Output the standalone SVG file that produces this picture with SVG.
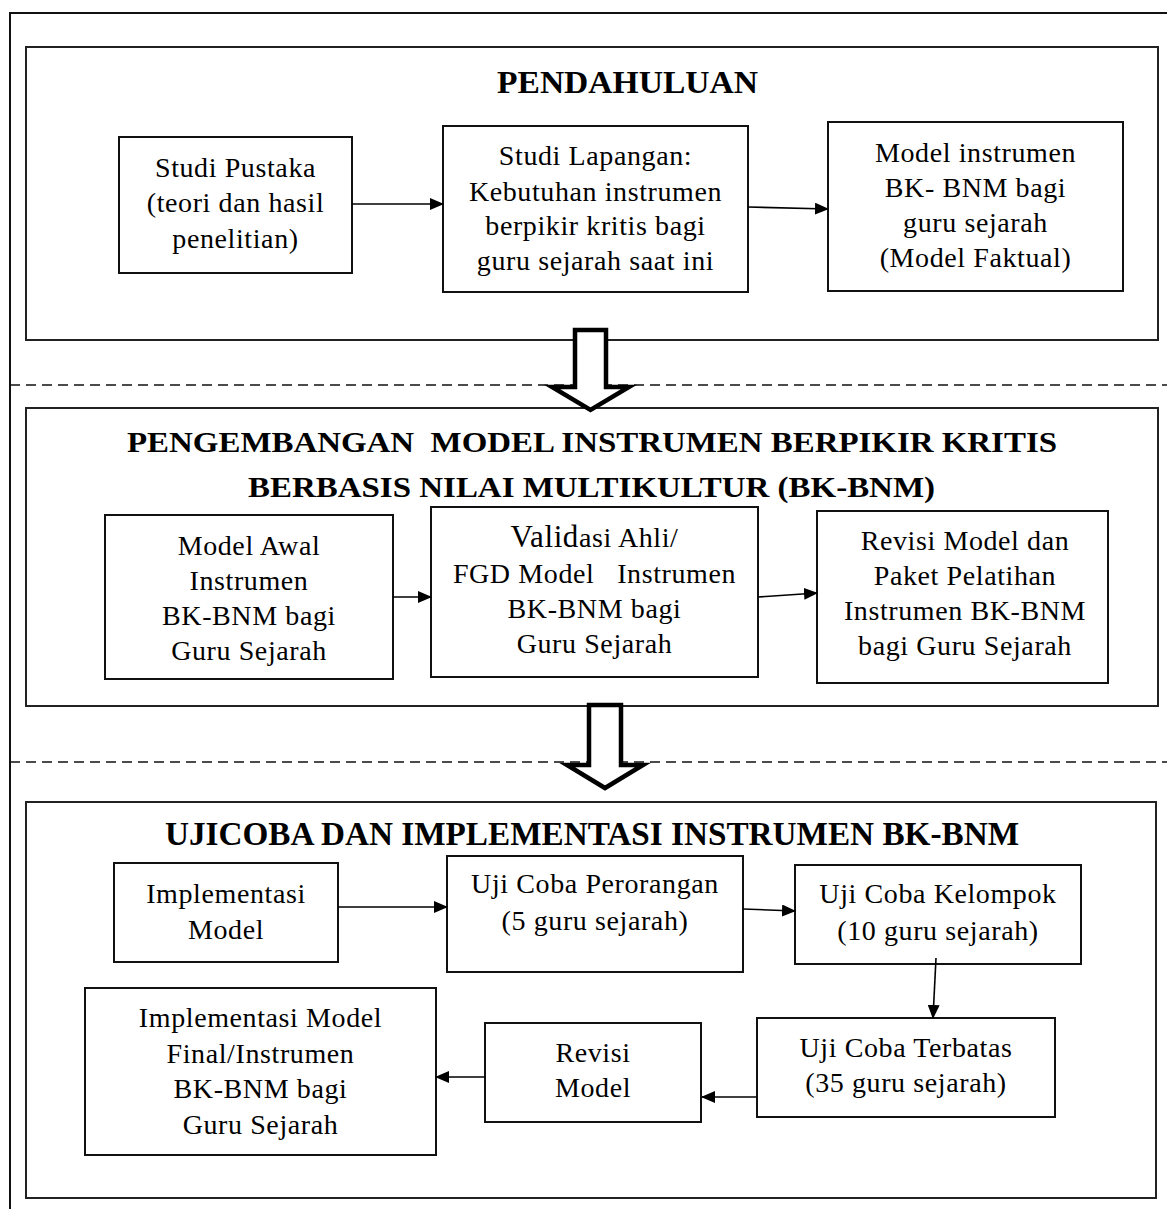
<svg xmlns="http://www.w3.org/2000/svg" width="1167" height="1209" viewBox="0 0 1167 1209">
<style>
.frame{fill:none;stroke:#111;stroke-width:2}
.sec{fill:none;stroke:#222;stroke-width:2}
.box{fill:#fff;stroke:#111;stroke-width:2}
.dash{fill:none;stroke:#111;stroke-width:1.5;stroke-dasharray:10 6}
.block{fill:#fff;stroke:#000;stroke-width:4.5;stroke-linejoin:miter}
.t{font-family:"Liberation Serif","Times New Roman",serif;font-size:28px;letter-spacing:0.6px;fill:#000;text-anchor:middle}
.h{font-family:"Liberation Serif","Times New Roman",serif;font-weight:bold;fill:#000;text-anchor:middle}
.c{fill:none;stroke:#000;stroke-width:1.6}
</style>
<defs>
<marker id="ah" viewBox="0 0 14 12" refX="13" refY="6" markerWidth="14" markerHeight="12" markerUnits="userSpaceOnUse" orient="auto">
<path d="M0,0 L14,6 L0,12 Z" fill="#000"/>
</marker>
</defs>
<rect width="1167" height="1209" fill="#fff"/>
<g id="frame">
<path class="frame" d="M10,1209 V13 H1167"/>
</g>
<g id="section-pendahuluan">
<rect class="sec" x="26" y="47" width="1132" height="293"/>
<text class="h" x="627.5" y="93" font-size="32" textLength="261" lengthAdjust="spacingAndGlyphs">PENDAHULUAN</text>
</g>
<g id="section-pengembangan">
<rect class="sec" x="26" y="408" width="1132" height="298"/>
<text class="h" x="592" y="452" font-size="30" xml:space="preserve" textLength="930" lengthAdjust="spacingAndGlyphs">PENGEMBANGAN  MODEL INSTRUMEN BERPIKIR KRITIS</text>
<text class="h" x="591.5" y="497" font-size="30" textLength="687" lengthAdjust="spacingAndGlyphs">BERBASIS NILAI MULTIKULTUR (BK-BNM)</text>
</g>
<g id="section-ujicoba">
<rect class="sec" x="26" y="802" width="1130" height="396"/>
<text class="h" x="592" y="845" font-size="33" textLength="854" lengthAdjust="spacingAndGlyphs">UJICOBA DAN IMPLEMENTASI INSTRUMEN BK-BNM</text>
</g>
<g id="separators">
<line class="dash" x1="10" y1="385" x2="1167" y2="385"/>
<line class="dash" x1="10" y1="762" x2="1167" y2="762"/>
</g>
<g id="block-arrow-1">
<polygon class="block" points="575,330 606,330 606,387 629,387 590.5,410 552,387 575,387"/>
</g>
<g id="block-arrow-2">
<polygon class="block" points="589,705 621,705 621,765 643,765 605,788 567,765 589,765"/>
</g>
<g id="studi-pustaka">
<rect class="box" x="119" y="137" width="233" height="136"/>
<text class="t" x="235.5" y="177">Studi Pustaka</text>
<text class="t" x="235.5" y="212">(teori dan hasil</text>
<text class="t" x="235.5" y="248">penelitian)</text>
</g>
<g id="studi-lapangan">
<rect class="box" x="443" y="126" width="305" height="166"/>
<text class="t" x="595.5" y="165">Studi Lapangan:</text>
<text class="t" x="595.5" y="201">Kebutuhan instrumen</text>
<text class="t" x="595.5" y="235">berpikir kritis bagi</text>
<text class="t" x="595.5" y="270">guru sejarah saat ini</text>
</g>
<g id="model-faktual">
<rect class="box" x="828" y="122" width="295" height="169"/>
<text class="t" x="975.5" y="162">Model instrumen</text>
<text class="t" x="975.5" y="197">BK- BNM bagi</text>
<text class="t" x="975.5" y="232">guru sejarah</text>
<text class="t" x="975.5" y="267">(Model Faktual)</text>
</g>
<g id="model-awal">
<rect class="box" x="105" y="515" width="288" height="164"/>
<text class="t" x="249" y="555">Model Awal</text>
<text class="t" x="249" y="590">Instrumen</text>
<text class="t" x="249" y="625">BK-BNM bagi</text>
<text class="t" x="249" y="660">Guru Sejarah</text>
</g>
<g id="validasi">
<rect class="box" x="431" y="507" width="327" height="170"/>
<text class="t" x="594.5" y="547"><tspan font-size="31">Valid</tspan>asi Ahli/</text>
<text class="t" x="594.5" y="583" xml:space="preserve">FGD Model   Instrumen</text>
<text class="t" x="594.5" y="618">BK-BNM bagi</text>
<text class="t" x="594.5" y="653">Guru Sejarah</text>
</g>
<g id="revisi-paket">
<rect class="box" x="817" y="511" width="291" height="172"/>
<text class="t" x="965" y="550">Revisi Model dan</text>
<text class="t" x="965" y="585">Paket Pelatihan</text>
<text class="t" x="965" y="620">Instrumen BK-BNM</text>
<text class="t" x="965" y="655">bagi Guru Sejarah</text>
</g>
<g id="implementasi-model">
<rect class="box" x="114" y="863" width="224" height="99"/>
<text class="t" x="226" y="903">Implementasi</text>
<text class="t" x="226" y="939">Model</text>
</g>
<g id="uji-perorangan">
<rect class="box" x="447" y="856" width="296" height="116"/>
<text class="t" x="595" y="893">Uji Coba Perorangan</text>
<text class="t" x="595" y="930">(5 guru sejarah)</text>
</g>
<g id="uji-kelompok">
<rect class="box" x="795" y="865" width="286" height="99"/>
<text class="t" x="938" y="903">Uji Coba Kelompok</text>
<text class="t" x="938" y="940">(10 guru sejarah)</text>
</g>
<g id="uji-terbatas">
<rect class="box" x="757" y="1018" width="298" height="99"/>
<text class="t" x="906" y="1057">Uji Coba Terbatas</text>
<text class="t" x="906" y="1092">(35 guru sejarah)</text>
</g>
<g id="revisi-model">
<rect class="box" x="485" y="1023" width="216" height="99"/>
<text class="t" x="593" y="1062">Revisi</text>
<text class="t" x="593" y="1097">Model</text>
</g>
<g id="implementasi-final">
<rect class="box" x="85" y="988" width="351" height="167"/>
<text class="t" x="260.5" y="1027">Implementasi Model</text>
<text class="t" x="260.5" y="1063">Final/Instrumen</text>
<text class="t" x="260.5" y="1098">BK-BNM bagi</text>
<text class="t" x="260.5" y="1134">Guru Sejarah</text>
</g>
<g id="connectors">
<line class="c" x1="352" y1="204" x2="443" y2="204" marker-end="url(#ah)"/>
<line class="c" x1="748" y1="207" x2="828" y2="209" marker-end="url(#ah)"/>
<line class="c" x1="393" y1="597" x2="431" y2="597" marker-end="url(#ah)"/>
<line class="c" x1="758" y1="597" x2="817" y2="593" marker-end="url(#ah)"/>
<line class="c" x1="338" y1="907" x2="447" y2="907" marker-end="url(#ah)"/>
<line class="c" x1="743" y1="909" x2="795" y2="911" marker-end="url(#ah)"/>
<line class="c" x1="936" y1="958" x2="933" y2="1018" marker-end="url(#ah)"/>
<line class="c" x1="757" y1="1097" x2="702" y2="1097" marker-end="url(#ah)"/>
<line class="c" x1="485" y1="1077" x2="436" y2="1077" marker-end="url(#ah)"/>
</g>
</svg>
